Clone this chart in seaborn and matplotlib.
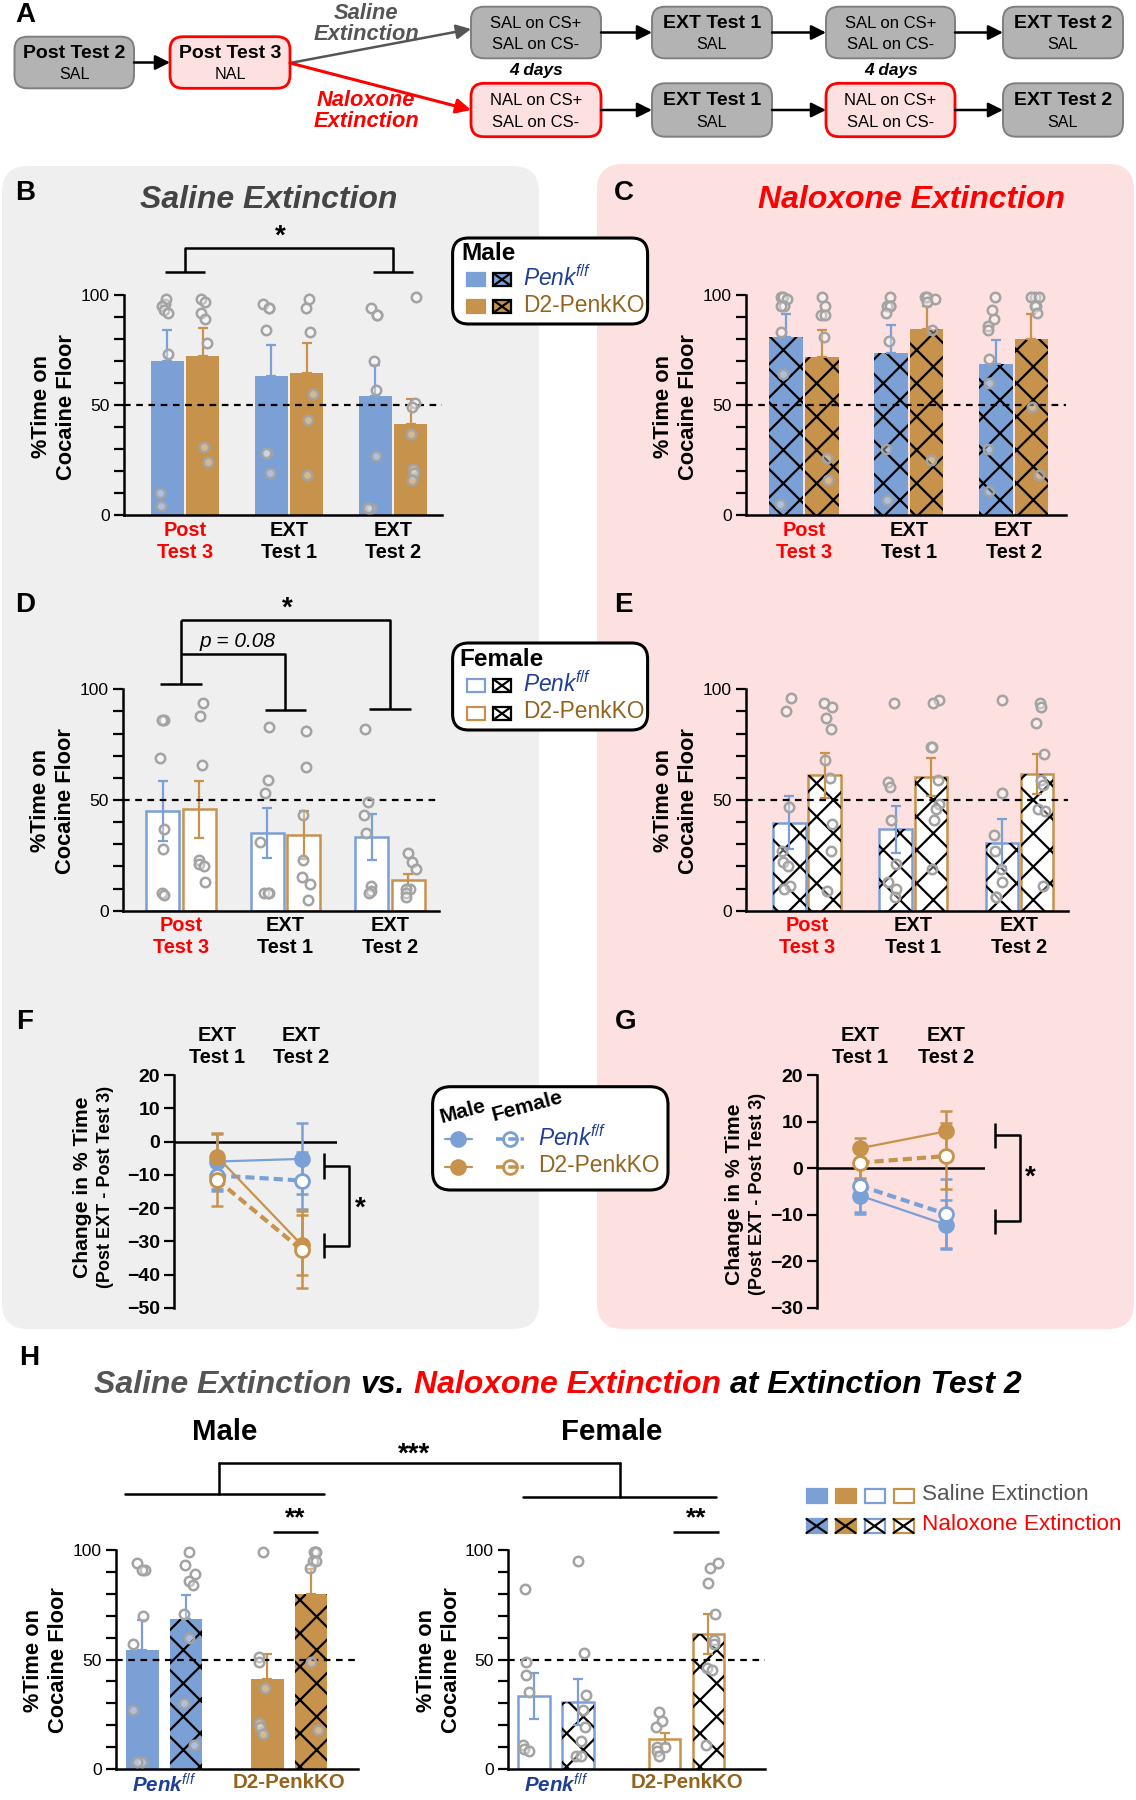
import numpy as np
import pandas as pd
import matplotlib
matplotlib.use("Agg")
import matplotlib.pyplot as plt
import matplotlib.transforms as mtransforms
from matplotlib.patches import FancyBboxPatch, Rectangle, FancyArrowPatch
from matplotlib.lines import Line2D
import seaborn as sns

np.random.seed(3)

sns.set_theme(style="ticks")
plt.rcParams["font.family"] = ["Liberation Sans", "DejaVu Sans"]
plt.rcParams["mathtext.fontset"] = "custom"
plt.rcParams["mathtext.rm"] = "Liberation Sans"
plt.rcParams["mathtext.it"] = "Liberation Sans:italic"
plt.rcParams["mathtext.bf"] = "Liberation Sans:bold"
plt.rcParams["hatch.linewidth"] = 0.8
plt.rcParams["axes.linewidth"] = 0.9
for k in ["text.color", "axes.edgecolor", "axes.labelcolor", "xtick.color", "ytick.color"]:
    plt.rcParams[k] = "black"

# ---------------- data ----------------
tests = ["Post\nTest 3", "EXT\nTest 1", "EXT\nTest 2"]
genos = ["Penk", "KO"]
ext_tests = ["EXT\nTest 1", "EXT\nTest 2"]
ext_groups = ["Saline", "Naloxone"]

# B: male, saline extinction
b_penk_mean = [70.0, 63.2, 54.2]
b_penk_sem = [14.0, 14.0, 14.0]
b_ko_mean = [72.3, 64.7, 41.2]
b_ko_sem = [12.6, 13.3, 11.5]
b_penk_pts = [[96, 98, 95, 93, 92, 73, 10, 4], [94, 96, 94, 84, 28, 28, 19], [94, 91, 91, 70, 57, 27, 3, 3]]
b_ko_pts = [[98, 97, 92, 89, 78, 31, 24], [98, 94, 83, 55, 43, 18], [99, 51, 49, 37, 21, 19, 16]]

# C: male, naloxone extinction
c_penk_mean = [80.8, 73.8, 68.6]
c_penk_sem = [10.6, 12.7, 10.8]
c_ko_mean = [72.0, 84.4, 79.8]
c_ko_sem = [12.0, 10.8, 11.6]
c_penk_pts = [[99, 99, 98, 95, 95, 83, 64, 5], [99, 95, 95, 95, 92, 79, 30, 7], [99, 93, 89, 86, 84, 71, 60, 30, 11]]
c_ko_pts = [[99, 95, 91, 91, 81, 26, 16], [99, 99, 98, 97, 84, 25], [99, 99, 99, 95, 95, 92, 49, 18]]

# D: female, saline extinction
d_penk_mean = [45.2, 34.9, 33.4]
d_penk_sem = [13.5, 11.3, 10.5]
d_ko_mean = [45.8, 34.2, 13.9]
d_ko_sem = [13.0, 11.0, 2.7]
d_penk_pts = [[86, 86, 69, 37, 28, 8, 7], [83, 59, 53, 31, 8, 8, 8], [82, 49, 43, 35, 11, 9, 8]]
d_ko_pts = [[94, 88, 66, 23, 21, 20, 13], [81, 65, 43, 23, 15, 12, 5], [26, 22, 19, 10, 10, 8, 6]]

# E: female, naloxone extinction
e_penk_mean = [39.8, 36.7, 30.6]
e_penk_sem = [12.0, 10.8, 10.7]
e_ko_mean = [61.1, 60.4, 61.7]
e_ko_sem = [10.3, 8.5, 9.0]
e_penk_pts = [[96, 90, 47, 27, 22, 20, 11, 10], [94, 58, 56, 41, 21, 13, 10, 6], [95, 53, 34, 27, 19, 13, 6, 6]]
e_ko_pts = [[94, 92, 87, 82, 68, 60, 39, 27, 9], [95, 94, 74, 74, 59, 48, 46, 41, 19],
            [94, 92, 85, 71, 59, 57, 46, 45, 11]]

# F: change from Post Test 3, saline extinction
f_male_penk = [-6.0, -5.2]
f_male_penk_sem = [8.3, 10.7]
f_fem_penk = [-10.2, -11.7]
f_fem_penk_sem = [4.5, 8.6]
f_male_ko = [-4.5, -31.0]
f_male_ko_sem = [7.2, 9.0]
f_fem_ko = [-11.5, -32.5]
f_fem_ko_sem = [8.0, 11.5]

# G: change from Post Test 3, naloxone extinction
g_male_penk = [-5.9, -12.1]
g_male_penk_sem = [3.9, 5.3]
g_fem_penk = [-3.8, -9.8]
g_fem_penk_sem = [5.6, 7.4]
g_male_ko = [4.3, 7.9]
g_male_ko_sem = [2.1, 4.4]
g_fem_ko = [1.2, 2.6]
g_fem_ko_sem = [3.6, 7.1]

# ---------------- style ----------------
BLUE = "#7ba0d6"
TAN = "#c6924c"
NAVY = "#1f3f94"
BROWN = "#94641f"
RED = "#ff0000"
DOT = "#a3a3a3"
GRAYBG = "#efefef"
PINKBG = "#fde0e0"
TITLEGRAY = "#444444"

W, H = 1136, 1800
DPI = 200
fig = plt.figure(figsize=(W / DPI, H / DPI), dpi=DPI)
fig.patch.set_facecolor("white")
pix = mtransforms.Affine2D().scale(1 / W, -1 / H).translate(0, 1) + fig.transFigure


def add_ax(x0, y0, x1, y1):
    ax = fig.add_axes([x0 / W, 1 - y1 / H, (x1 - x0) / W, (y1 - y0) / H])
    ax.patch.set_visible(False)
    return ax


def ftext(x, y, s, **kw):
    kw.setdefault("ha", "center")
    kw.setdefault("va", "center")
    return fig.text(x, y, s, transform=pix, **kw)


def rbox(x0, y0, x1, y1, fc, ec, lw, r, z=1):
    p = FancyBboxPatch((x0, y0), x1 - x0, y1 - y0, boxstyle=f"round,pad=0,rounding_size={r}",
                       fc=fc, ec=ec, lw=lw, transform=pix, zorder=z)
    fig.add_artist(p)


def arrow(x0, y0, x1, y1, color="black", lw=0.9, ms=11):
    a = FancyArrowPatch((x0, y0), (x1, y1), transform=pix, arrowstyle="-|>", mutation_scale=ms,
                        color=color, lw=lw, shrinkA=0, shrinkB=0, zorder=2)
    fig.add_artist(a)


def pline(xs, ys, color="black", lw=0.9, z=6, **kw):
    fig.add_artist(Line2D(xs, ys, transform=pix, color=color, lw=lw, zorder=z, **kw))


def glyph(x, y, col, hollow, cross, edge=None, w=18, h=13):
    fig.add_artist(Rectangle((x, y), w, h, transform=pix, fc="white" if hollow else col,
                             ec=edge or col, lw=0.8, zorder=6))
    if cross:
        pline([x, x + w], [y, y + h], lw=0.8, z=7)
        pline([x, x + w], [y + h, y], lw=0.8, z=7)


def bar_panel(ax, cats, hues, means, sems, pts, colors, hollow, hatched, width, gap, xlim):
    rows = [(c, h, means[i][j]) for i, h in enumerate(hues) for j, c in enumerate(cats)]
    bars = pd.DataFrame(rows, columns=["cat", "grp", "pct"])
    sns.barplot(data=bars, x="cat", y="pct", hue="grp", order=cats, hue_order=hues,
                palette=["#888888"] * len(hues), width=width, gap=gap, errorbar=None,
                saturation=1, legend=False, ax=ax)
    patches = list(ax.patches)
    for k, p in enumerate(patches):
        i, j = divmod(k, len(cats))
        col = colors[i][j]
        xc = p.get_x() + p.get_width() / 2
        if hollow[i][j]:
            p.set_facecolor("white")
            p.set_edgecolor(col)
            p.set_linewidth(0.9)
            yerr = [[sems[i][j]], [sems[i][j]]]
        else:
            p.set_facecolor(col)
            p.set_edgecolor(col)
            p.set_linewidth(0)
            yerr = [[0], [sems[i][j]]]
        if hatched[i][j]:
            ax.add_patch(Rectangle((p.get_x(), p.get_y()), p.get_width(), p.get_height(),
                                   fc="none", ec="black", lw=0, hatch="xx", zorder=1.6))
        ax.errorbar(xc, means[i][j], yerr=yerr, fmt="none", ecolor=col, elinewidth=0.8,
                    capsize=1.8, capthick=0.8, zorder=2.5)

    prow = [(c, h, v) for i, h in enumerate(hues) for j, c in enumerate(cats) for v in pts[i][j]]
    pdf = pd.DataFrame(prow, columns=["cat", "grp", "pct"])
    n0 = len(ax.collections)
    sns.stripplot(data=pdf, x="cat", y="pct", hue="grp", order=cats, hue_order=hues, dodge=True,
                  jitter=0.1, size=3.4, palette=[DOT] * len(hues), legend=False, ax=ax, zorder=4)
    for coll in ax.collections[n0:]:
        coll.set_facecolor((1, 1, 1, 0.35))
        coll.set_edgecolor(DOT)
        coll.set_linewidth(0.9)
        coll.set_clip_on(False)

    ax.axhline(50, ls=(0, (3, 2.5)), color="black", lw=0.8, zorder=3)
    ax.set_xlim(*xlim)
    ax.set_ylim(0, 100)
    ax.set_yticks([0, 50, 100])
    ax.set_yticks(range(0, 101, 10), minor=True)
    ax.tick_params(axis="y", which="both", length=3.5, width=0.8, labelsize=6.3, pad=1.5)
    ax.tick_params(axis="x", length=0, labelsize=7.2, pad=2)
    ax.set_xlabel("")
    ax.set_ylabel("")
    sns.despine(ax=ax)


def style_test_ticks(ax):
    for lab in ax.get_xticklabels():
        lab.set_fontweight("bold")
    ax.get_xticklabels()[0].set_color(RED)


def change_panel(ax, groups, ylim, xlim):
    xpos = np.arange(len(ext_tests))
    for vals, sem, col, fem in groups:
        ax.errorbar(xpos, vals, yerr=sem, fmt="none", ecolor=col, elinewidth=0.9,
                    capsize=2.3, capthick=0.9, zorder=2)
        sns.lineplot(x=xpos, y=vals, color=col, errorbar=None, ax=ax, zorder=3,
                     linestyle=(0, (2.2, 1.2)) if fem else "-", linewidth=1.5 if fem else 0.8,
                     marker="o", markersize=5, markerfacecolor="white" if fem else col,
                     markeredgecolor=col, markeredgewidth=1.0)
    ax.axhline(0, color="black", lw=0.9, zorder=1)
    ax.set_xlim(*xlim)
    ax.set_ylim(*ylim)
    ax.set_yticks(np.arange(ylim[0], ylim[1] + 1, 10))
    ax.set_xticks(xpos)
    ax.set_xticklabels(ext_tests, fontweight="bold", fontsize=7.2)
    ax.xaxis.tick_top()
    ax.tick_params(axis="x", length=0, pad=3)
    ax.tick_params(axis="y", length=3.5, width=0.8, labelsize=7, pad=1.5)
    for lab in ax.get_yticklabels():
        lab.set_fontweight("bold")
    for s in ["top", "right", "bottom"]:
        ax.spines[s].set_visible(False)
    ax.set_xlabel("")
    ax.set_ylabel("")


def draw_br(ax, xs, ys):
    ax.plot(xs, ys, color="black", lw=0.9, clip_on=False, solid_capstyle="butt", zorder=5)


# ---------------- backgrounds ----------------
rbox(2, 166, 539, 1329, GRAYBG, "none", 0, 26, z=-5)
rbox(597, 164, 1134, 1329, PINKBG, "none", 0, 26, z=-5)

# ---------------- panel A ----------------
GBOX = "#b3b3b3"
GEDGE = "#7f7f7f"


def flow_box(x0, y0, x1, y1, l1, l2, pink=False, bold1=True):
    if pink:
        rbox(x0, y0, x1, y1, PINKBG, RED, 1.0, 13)
    else:
        rbox(x0, y0, x1, y1, GBOX, GEDGE, 0.7, 13)
    cx = (x0 + x1) / 2
    ftext(cx, y0 + (y1 - y0) * 0.32, l1, fontsize=7.0 if bold1 else 6.0,
          fontweight="bold" if bold1 else "normal", zorder=3)
    ftext(cx, y0 + (y1 - y0) * 0.73, l2, fontsize=5.8 if bold1 else 6.0, zorder=3)


ftext(25, 15, "A", fontsize=10, fontweight="bold")
flow_box(14.5, 36.7, 134, 88.3, "Post Test 2", "SAL")
flow_box(170, 36.7, 290, 88.3, "Post Test 3", "NAL", pink=True)
arrow(134, 62.5, 170, 62.5)
cols_x = [(471, 601), (652, 772), (826, 955), (1003, 1123)]
for (ya, yb, pinkrow, drug) in [(6.7, 58.3, False, "SAL"), (83.3, 136.7, True, "NAL")]:
    flow_box(cols_x[0][0], ya, cols_x[0][1], yb, f"{drug} on CS+", "SAL on CS-", pink=pinkrow, bold1=False)
    flow_box(cols_x[1][0], ya, cols_x[1][1], yb, "EXT Test 1", "SAL")
    flow_box(cols_x[2][0], ya, cols_x[2][1], yb, f"{drug} on CS+", "SAL on CS-", pink=pinkrow, bold1=False)
    flow_box(cols_x[3][0], ya, cols_x[3][1], yb, "EXT Test 2", "SAL")
    yc = (ya + yb) / 2
    arrow(601, yc, 652, yc)
    arrow(772, yc, 826, yc)
    arrow(955, yc, 1003, yc)
arrow(290, 63, 471, 29, color="#555555", lw=0.9)
arrow(290, 63, 471, 110, color=RED, lw=1.1)
ftext(366, 24, "Saline\nExtinction", fontsize=7.9, fontweight="bold", fontstyle="italic",
      color="#555555", linespacing=0.95)
ftext(366, 111, "Naloxone\nExtinction", fontsize=7.9, fontweight="bold", fontstyle="italic",
      color=RED, linespacing=0.95)
ftext(536, 70, "4 days", fontsize=6.2, fontweight="bold", fontstyle="italic")
ftext(891, 70, "4 days", fontsize=6.2, fontweight="bold", fontstyle="italic")

# ---------------- panels B-E ----------------
blue3 = [BLUE] * 3
tan3 = [TAN] * 3
no3 = [False] * 3
yes3 = [True] * 3

axB = add_ax(124, 295, 442, 515)
bar_panel(axB, tests, genos, [b_penk_mean, b_ko_mean], [b_penk_sem, b_ko_sem], [b_penk_pts, b_ko_pts],
          [blue3, tan3], [no3, no3], [no3, no3], 0.68, 0.06, (-0.587, 2.47))
style_test_ticks(axB)
draw_br(axB, [0, 0, 2, 2], [110.5, 121.4, 121.4, 110.5])
draw_br(axB, [-0.19, 0.19], [110.5, 110.5])
draw_br(axB, [1.81, 2.19], [110.5, 110.5])
axB.text(0.92, 120.5, "*", ha="center", va="bottom", fontsize=10, fontweight="bold")

axC = add_ax(746, 295, 1066, 515)
bar_panel(axC, tests, genos, [c_penk_mean, c_ko_mean], [c_penk_sem, c_ko_sem], [c_penk_pts, c_ko_pts],
          [blue3, tan3], [no3, no3], [yes3, yes3], 0.68, 0.06, (-0.554, 2.50))
style_test_ticks(axC)

axD = add_ax(122.5, 689.3, 439, 910.7)
bar_panel(axD, tests, genos, [d_penk_mean, d_ko_mean], [d_penk_sem, d_ko_sem], [d_penk_pts, d_ko_pts],
          [blue3, tan3], [yes3, yes3], [no3, no3], 0.70, 0.10, (-0.56, 2.47))
style_test_ticks(axD)
draw_br(axD, [0, 0], [102.4, 131.3])
draw_br(axD, [0, 2, 2], [131.3, 131.3, 91.1])
draw_br(axD, [0, 1, 1], [116, 116, 90.7])
draw_br(axD, [-0.2, 0.2], [102.4, 102.4])
draw_br(axD, [0.8, 1.2], [90.7, 90.7])
draw_br(axD, [1.8, 2.2], [91.1, 91.1])
axD.text(1.02, 130.5, "*", ha="center", va="bottom", fontsize=10, fontweight="bold")
axD.text(0.545, 121.8, "p = 0.08", ha="center", va="center", fontsize=7.5, fontstyle="italic")

axE = add_ax(746, 689.3, 1068, 910.7)
bar_panel(axE, tests, genos, [e_penk_mean, e_ko_mean], [e_penk_sem, e_ko_sem], [e_penk_pts, e_ko_pts],
          [blue3, tan3], [yes3, yes3], [yes3, yes3], 0.66, 0.08, (-0.575, 2.46))
style_test_ticks(axE)

# titles, letters, y labels
ftext(269, 200, "Saline Extinction", fontsize=11.5, fontweight="bold", fontstyle="italic", color=TITLEGRAY)
ftext(911, 200, "Naloxone Extinction", fontsize=11.5, fontweight="bold", fontstyle="italic", color=RED)
for letter, x, y in [("B", 25, 193), ("C", 624, 193), ("D", 25, 605), ("E", 623, 605),
                     ("F", 25, 1022), ("G", 626, 1022), ("H", 29, 1358)]:
    ftext(x, y, letter, fontsize=10, fontweight="bold")
for x, y in [(54, 407), (676, 407), (53, 801), (676, 801), (46, 1660), (439, 1660)]:
    ftext(x, y, "%Time on\nCocaine Floor", rotation=90, fontsize=7.9, fontweight="bold")

# Male legend
rbox(452.6, 238, 647.6, 324, "white", "black", 1.1, 16, z=5)
ftext(461, 254, "Male", ha="left", fontsize=8.8, fontweight="bold", zorder=7)
glyph(467, 273, BLUE, False, False)
glyph(493, 273, BLUE, False, True, edge="black")
ftext(523, 278, "Penk$^{f/f}$", ha="left", color=NAVY, fontsize=8.2, fontstyle="italic", zorder=7)
glyph(467, 300, TAN, False, False)
glyph(493, 300, TAN, False, True, edge="black")
ftext(523, 306, "D2-PenkKO", ha="left", color=BROWN, fontsize=8.2, zorder=7)

# Female legend
rbox(452.6, 643, 647.6, 730, "white", "black", 1.1, 16, z=5)
ftext(459, 660, "Female", ha="left", fontsize=8.8, fontweight="bold", zorder=7)
glyph(467, 679, BLUE, True, False)
glyph(493, 679, "black", True, True, edge="black")
ftext(523, 684, "Penk$^{f/f}$", ha="left", color=NAVY, fontsize=8.2, fontstyle="italic", zorder=7)
glyph(467, 707, TAN, True, False)
glyph(493, 707, "black", True, True, edge="black")
ftext(523, 712, "D2-PenkKO", ha="left", color=BROWN, fontsize=8.2, zorder=7)

# ---------------- panels F, G ----------------
axF = add_ax(174, 1075, 337, 1308)
change_panel(axF, [(f_male_penk, f_male_penk_sem, BLUE, False), (f_fem_penk, f_fem_penk_sem, BLUE, True),
                   (f_male_ko, f_male_ko_sem, TAN, False), (f_fem_ko, f_fem_ko_sem, TAN, True)],
             (-50, 20), (-0.51, 1.42))
draw_br(axF, [1.27, 1.27], [-3.5, -11.3])
draw_br(axF, [1.27, 1.56, 1.56, 1.27], [-7.3, -7.3, -31.3, -31.3])
draw_br(axF, [1.27, 1.27], [-27.5, -35])
axF.text(1.69, -20, "*", ha="center", va="center", fontsize=10, fontweight="bold")

axG = add_ax(817, 1075, 985, 1308)
change_panel(axG, [(g_male_penk, g_male_penk_sem, BLUE, False), (g_fem_penk, g_fem_penk_sem, BLUE, True),
                   (g_male_ko, g_male_ko_sem, TAN, False), (g_fem_ko, g_fem_ko_sem, TAN, True)],
             (-30, 20), (-0.508, 1.46))
draw_br(axG, [1.58, 1.58], [9.6, 4.3])
draw_br(axG, [1.58, 1.87, 1.87, 1.58], [7.1, 7.1, -11.3, -11.3])
draw_br(axG, [1.58, 1.58], [-8.8, -14.1])
axG.text(1.99, -2.1, "*", ha="center", va="center", fontsize=10, fontweight="bold")

for x1, x2, y in [(82, 105, 1187), (734, 758, 1194)]:
    ftext(x1, y, "Change in % Time", rotation=90, fontsize=7.6, fontweight="bold")
    ftext(x2, y, "(Post EXT - Post Test 3)", rotation=90, fontsize=6.5, fontweight="bold")

# F/G legend
rbox(432.6, 1086.7, 668, 1190, "white", "black", 1.1, 18, z=5)
ftext(463, 1112, "Male", fontsize=7.6, fontweight="bold", rotation=15, zorder=7)
ftext(527, 1106, "Female", fontsize=7.6, fontweight="bold", rotation=15, zorder=7)
for yy, col, lab, txtcol, sty in [(1139, BLUE, "Penk$^{f/f}$", NAVY, "italic"),
                                  (1166.7, TAN, "D2-PenkKO", BROWN, "normal")]:
    pline([445, 471.5], [yy, yy], color=col, lw=0.8, z=7)
    pline([458], [yy], color=col, marker="o", markersize=5, mfc=col, mec=col, z=8)
    pline([496, 523.5], [yy, yy], color=col, lw=1.3, z=7, linestyle=(0, (2.2, 1.2)))
    pline([510], [yy], color=col, marker="o", markersize=5, mfc="none", mec=col, z=8)
    ftext(538, yy - 1, lab, ha="left", color=txtcol, fontsize=8.2, fontstyle=sty, zorder=7)

# ---------------- panel H ----------------
rend = fig.canvas.get_renderer()
parts = [("Saline Extinction", "#555555"), ("vs.", "black"), ("Naloxone Extinction", RED),
         ("at Extinction Test 2", "black")]
tkw = dict(fontsize=11.5, fontweight="bold", fontstyle="italic")
space = 9
widths = []
for s, c in parts:
    t = ftext(0, 0, s, ha="left", **tkw)
    widths.append(t.get_window_extent(rend).width)
    t.remove()
xcur = 558 - (sum(widths) + space * (len(parts) - 1)) / 2
for (s, c), wdt in zip(parts, widths):
    ftext(xcur, 1385, s, ha="left", color=c, **tkw)
    xcur += wdt + space

ftext(225, 1432, "Male", fontsize=10.6, fontweight="bold")
ftext(612, 1432, "Female", fontsize=10.6, fontweight="bold")
ftext(414, 1455, "***", fontsize=10, fontweight="bold")
pline([219, 619.5], [1462.7, 1462.7])
pline([219, 219], [1462.7, 1494.3])
pline([619.5, 619.5], [1462.7, 1496.7])
pline([125.4, 324], [1494.3, 1494.3])
pline([522.7, 715.5], [1496.7, 1496.7])

blue_tan = [[BLUE, TAN], [BLUE, TAN]]
sal_nal_hatch = [[False, False], [True, True]]

axHm = add_ax(115.6, 1550, 358, 1769)
bar_panel(axHm, genos, ext_groups,
          [[b_penk_mean[2], b_ko_mean[2]], [c_penk_mean[2], c_ko_mean[2]]],
          [[b_penk_sem[2], b_ko_sem[2]], [c_penk_sem[2], c_ko_sem[2]]],
          [[b_penk_pts[2], b_ko_pts[2]], [c_penk_pts[2], c_ko_pts[2]]],
          blue_tan, [[False, False], [False, False]], sal_nal_hatch, 0.70, 0.25, (-0.387, 1.55))
draw_br(axHm, [0.87, 1.23], [108.3, 108.3])
axHm.text(1.05, 109, "**", ha="center", va="bottom", fontsize=9.5, fontweight="bold")

axHf = add_ax(508, 1550, 765, 1769)
bar_panel(axHf, genos, ext_groups,
          [[d_penk_mean[2], d_ko_mean[2]], [e_penk_mean[2], e_ko_mean[2]]],
          [[d_penk_sem[2], d_ko_sem[2]], [e_penk_sem[2], e_ko_sem[2]]],
          [[d_penk_pts[2], d_ko_pts[2]], [e_penk_pts[2], e_ko_pts[2]]],
          blue_tan, [[True, True], [True, True]], sal_nal_hatch, 0.67, 0.28, (-0.366, 1.60))
draw_br(axHf, [0.90, 1.25], [108, 108])
axHf.text(1.075, 109, "**", ha="center", va="bottom", fontsize=9.5, fontweight="bold")

for ax in (axHm, axHf):
    ax.set_xticks(range(len(genos)))
    ax.set_xticklabels(["Penk$^{f/f}$", "D2-PenkKO"], fontsize=7.4, fontweight="bold")
    ax.get_xticklabels()[0].set_color(NAVY)
    ax.get_xticklabels()[0].set_fontstyle("italic")
    ax.get_xticklabels()[1].set_color(BROWN)
    ax.tick_params(axis="x", length=0, pad=1.5)

# H legend
for k, (col, hollow) in enumerate([(BLUE, False), (TAN, False), (BLUE, True), (TAN, True)]):
    x0 = 806.5 + k * 29
    glyph(x0, 1489, col, hollow, False, w=20, h=14)
    glyph(x0, 1519, col, hollow, True, w=20, h=14)
ftext(922, 1495, "Saline Extinction", ha="left", color="#555555", fontsize=8.1)
ftext(922, 1525, "Naloxone Extinction", ha="left", color=RED, fontsize=8.1)

fig.savefig("out.png", dpi=DPI, facecolor="white")
